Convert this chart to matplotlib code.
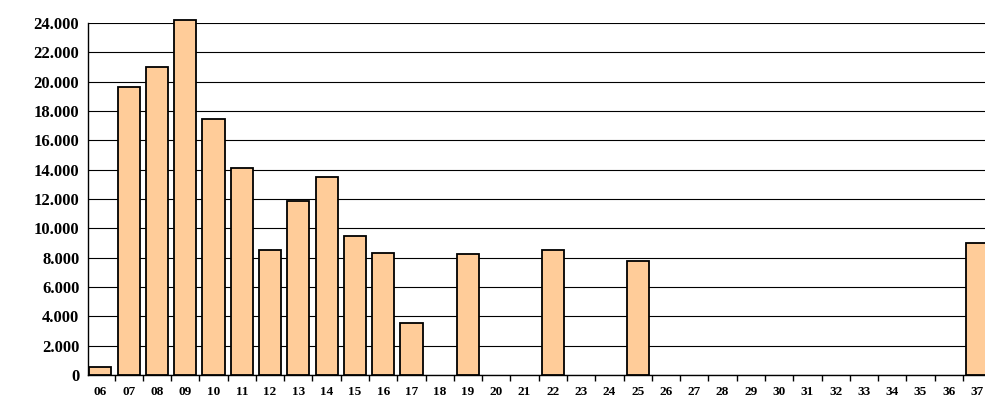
import matplotlib
matplotlib.use("Agg")
import matplotlib.pyplot as plt
import numpy as np

categories = [f"{i:02d}" for i in range(6, 38)]
values = [550, 19630, 21000, 24200, 17450, 14100, 8500, 11860, 13500, 9480,
          8320, 3550, 0, 8250, 0, 0, 8520, 0, 0, 7770,
          0, 0, 0, 0, 0, 0, 0, 0, 0, 0, 0, 9000]
yticks = list(range(0, 24001, 2000))
ytick_labels = [f"{v // 1000}.000" if v else "0" for v in yticks]

plt.rcParams["font.family"] = ["Liberation Serif", "DejaVu Serif"]

fig = plt.figure(figsize=(9.85, 4.05), dpi=100)
ax = fig.add_axes([0.089, 0.074, 0.911, 0.869])

x = np.arange(len(categories))
vals = np.array(values)
mask = vals > 0
bars = ax.bar(x[mask], vals[mask], width=0.78, color="#FFCC99", edgecolor="black",
              linewidth=1.3, zorder=3)
for b in bars:
    b.set_clip_on(False)

ax.set_ylim(0, 24000)
ax.set_xlim(-0.45, 31.28)
ax.set_yticks(yticks)
ax.set_yticklabels(ytick_labels, fontsize=12, fontweight="bold")
ax.yaxis.grid(True, color="black", linewidth=0.8, zorder=0)
ax.tick_params(axis="y", length=0, pad=6)

ax.set_xticks(x)
ax.set_xticklabels(categories, fontsize=9.5, fontweight="bold")
ax.set_xticks(x[:-1] + 0.5, minor=True)
ax.tick_params(axis="x", which="major", length=0, pad=8)
ax.tick_params(axis="x", which="minor", length=4, width=1)

for s in ["top", "right"]:
    ax.spines[s].set_visible(False)
ax.spines["left"].set_linewidth(1)
ax.spines["bottom"].set_linewidth(1)

fig.savefig("out.png", dpi=100)
